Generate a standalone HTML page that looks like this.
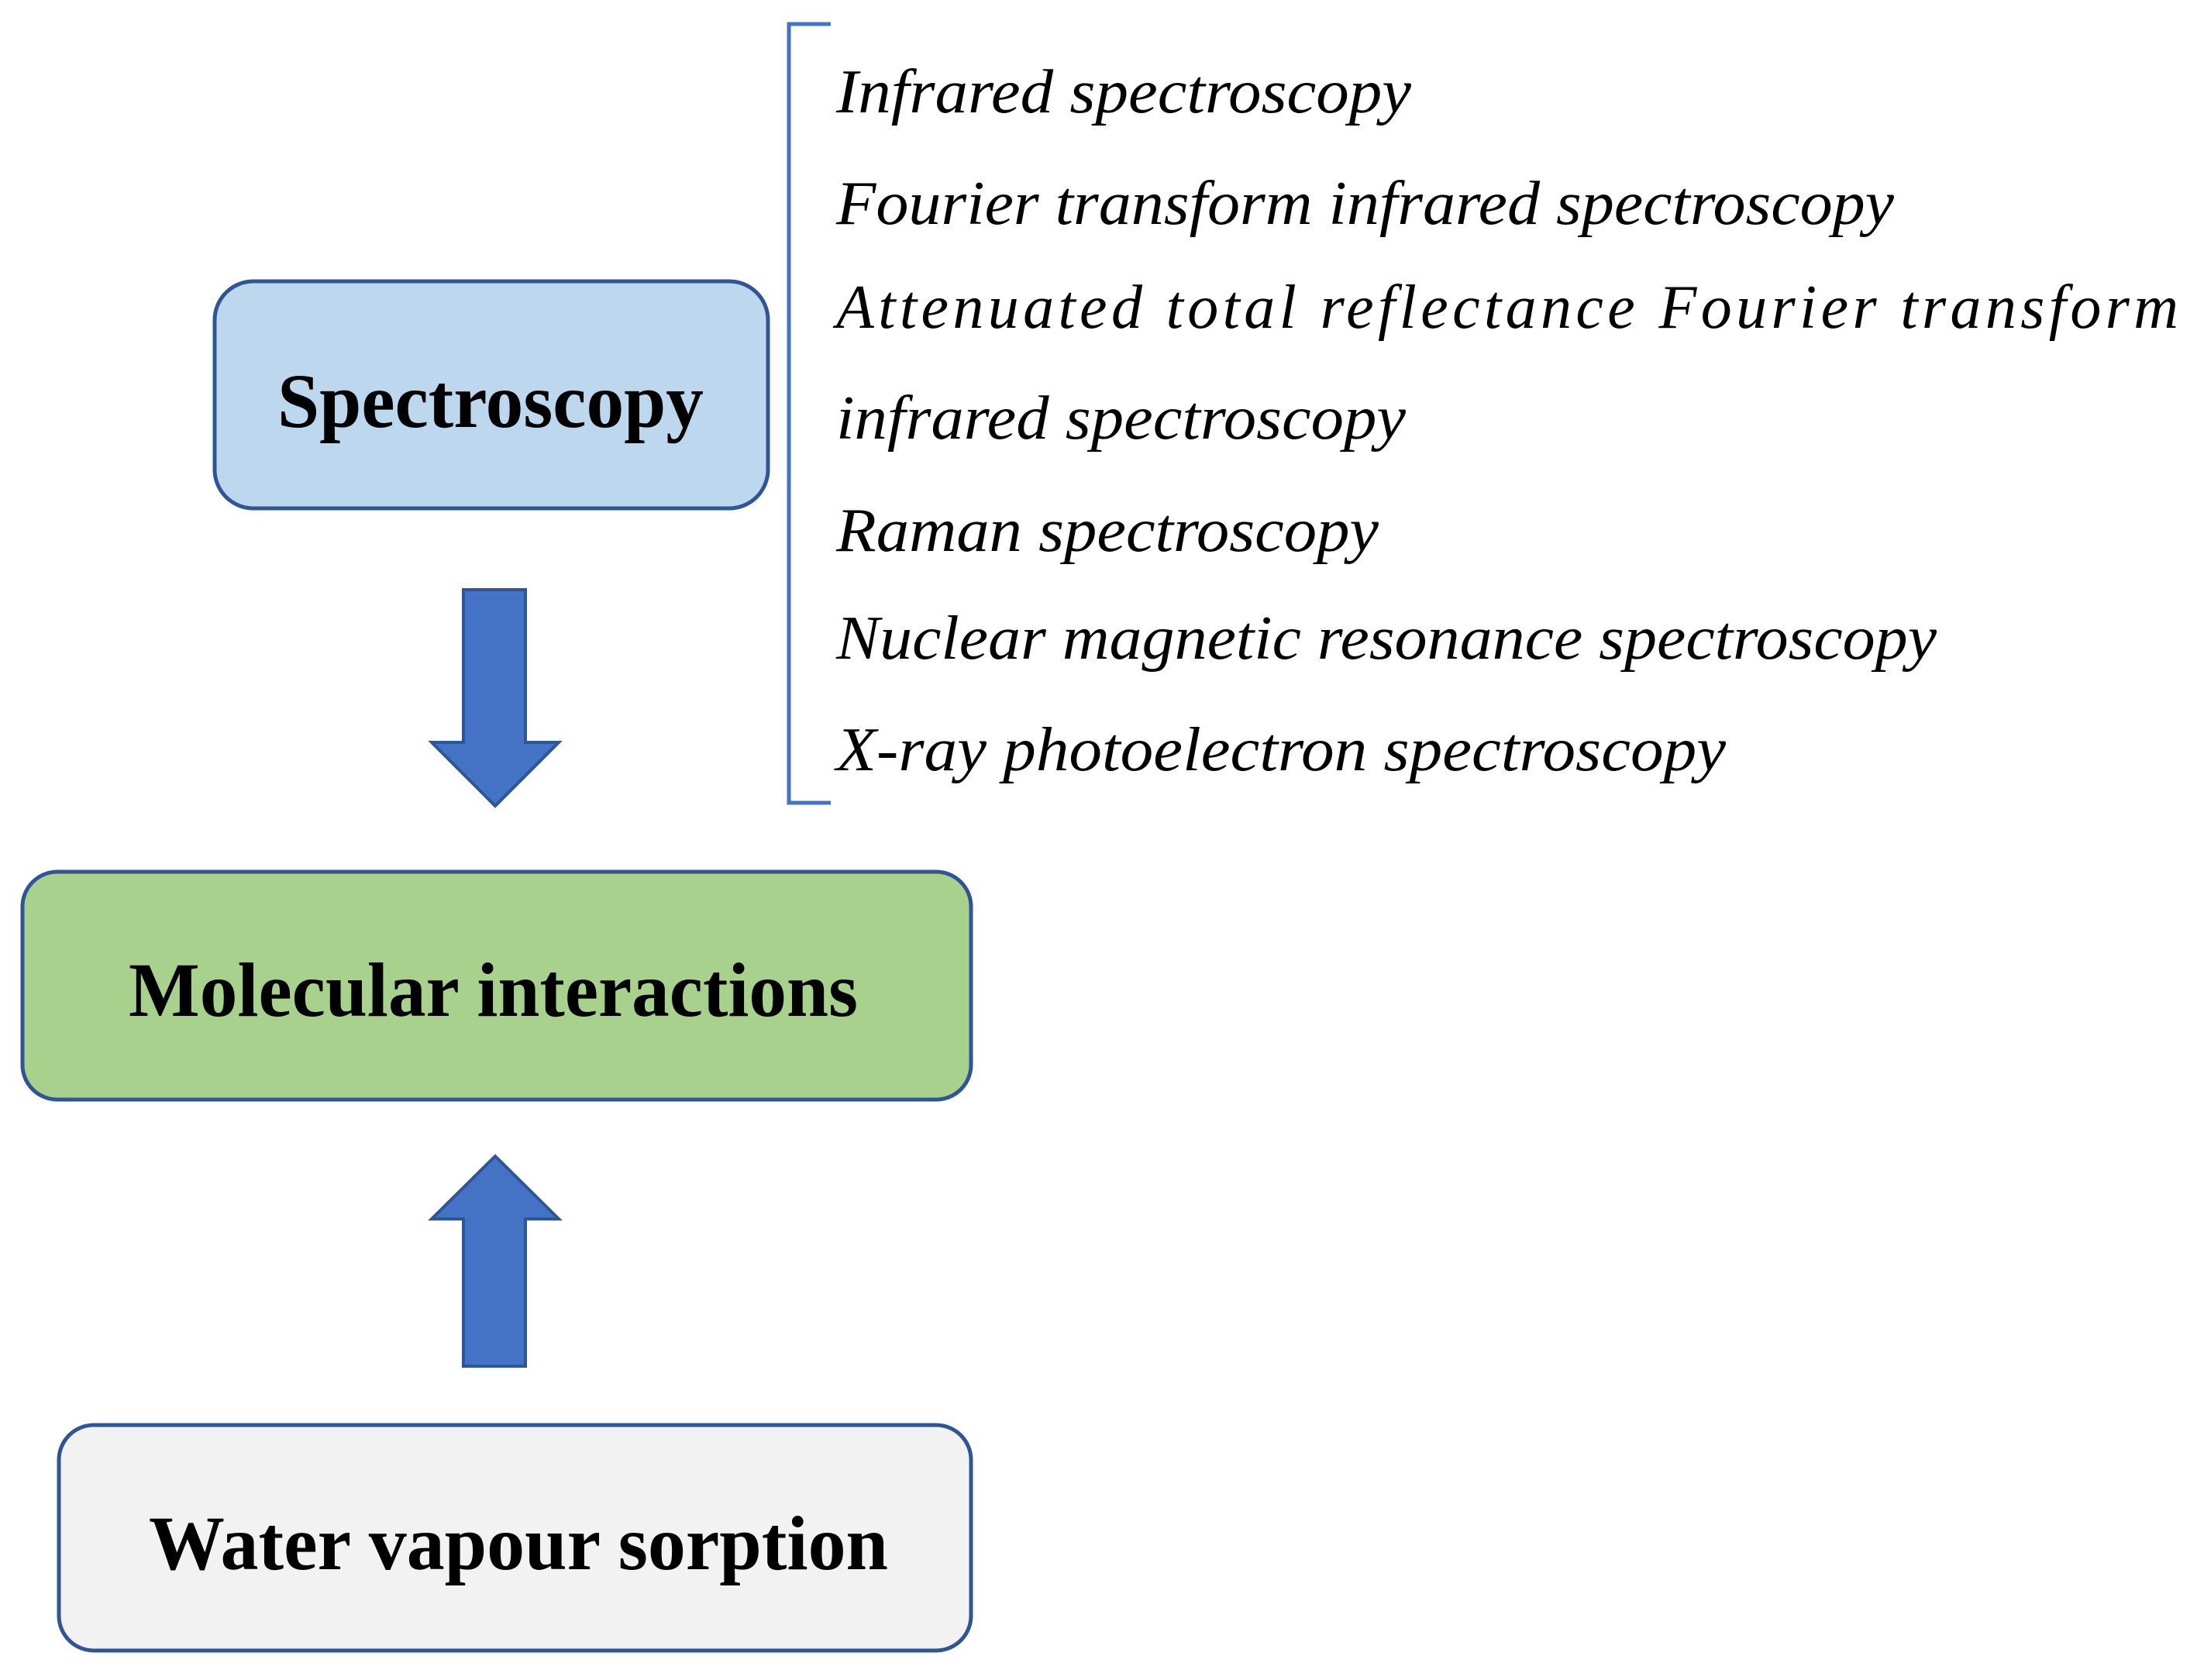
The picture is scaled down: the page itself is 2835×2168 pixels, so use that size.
<!DOCTYPE html>
<html><head><meta charset="utf-8"><style>html,body{margin:0;padding:0;background:#fff}svg{display:block}</style></head>
<body>
<svg width="2835" height="2168" viewBox="0 0 2835 2168" xmlns="http://www.w3.org/2000/svg">
<rect x="277" y="363" width="714" height="293" rx="50" fill="#bdd7ee" stroke="#2f5597" stroke-width="5"/>
<rect x="29" y="1125" width="1224" height="294" rx="45" fill="#a9d18e" stroke="#2f5597" stroke-width="5"/>
<rect x="76" y="1839" width="1177" height="291" rx="45" fill="#f2f2f2" stroke="#2f5597" stroke-width="5"/>
<polygon points="598,761 678,761 678,958 721,958 639,1040 557,958 598,958" fill="#4472c4" stroke="#2f5597" stroke-width="4"/>
<polygon points="639,1492 721,1573 678,1573 678,1763 598,1763 598,1573 557,1573" fill="#4472c4" stroke="#2f5597" stroke-width="4"/>
<path d="M1072,31 L1018,31 L1018,1036 L1072,1036" fill="none" stroke="#4472c4" stroke-width="5"/>
<g font-family="Liberation Serif, serif" font-weight="bold" font-size="100" fill="#000">
<text x="358" y="551" textLength="550" lengthAdjust="spacingAndGlyphs">Spectroscopy</text>
<text x="166" y="1311" textLength="941" lengthAdjust="spacingAndGlyphs">Molecular interactions</text>
<text x="192" y="2025" textLength="954" lengthAdjust="spacingAndGlyphs">Water vapour sorption</text>
</g>
<g font-family="Liberation Serif, serif" font-style="italic" font-size="80" fill="#000">
<text x="1079" y="145" textLength="742" lengthAdjust="spacingAndGlyphs">Infrared spectroscopy</text>
<text x="1079" y="289" textLength="1365" lengthAdjust="spacingAndGlyphs">Fourier transform infrared spectroscopy</text>
<text x="1079" y="423" textLength="1732" lengthAdjust="spacing">Attenuated total reflectance Fourier transform</text>
<text x="1079" y="566" textLength="735" lengthAdjust="spacingAndGlyphs">infrared spectroscopy</text>
<text x="1079" y="711" textLength="700" lengthAdjust="spacingAndGlyphs">Raman spectroscopy</text>
<text x="1079" y="850" textLength="1420" lengthAdjust="spacingAndGlyphs">Nuclear magnetic resonance spectroscopy</text>
<text x="1079" y="994" textLength="1148" lengthAdjust="spacingAndGlyphs">X-ray photoelectron spectroscopy</text>
</g>
</svg>
</body></html>
